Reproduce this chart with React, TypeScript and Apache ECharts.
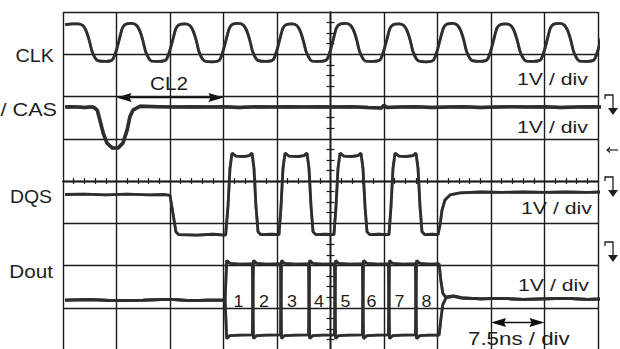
import React, { useEffect, useRef } from "react";
import * as echarts from "echarts";

// x in horizontal divisions (7.5 ns/div), y in vertical divisions (1 V/div), centre = 0,0
const clkTrace: number[][] = [
  [-4.96, 3.7], [-4.83, 3.72], [-4.72, 3.72], [-4.63, 3.68], [-4.57, 3.56], [-4.51, 3.33], [-4.46, 3.08], [-4.4, 2.91], [-4.35, 2.85], [-4.21, 2.83], [-4.1, 2.85], [-4.06, 2.9],
  [-4.0, 3.1], [-3.94, 3.39], [-3.89, 3.62], [-3.83, 3.71], [-3.72, 3.73], [-3.63, 3.69], [-3.57, 3.57], [-3.51, 3.34], [-3.46, 3.08], [-3.4, 2.91], [-3.35, 2.84], [-3.21, 2.83], [-3.1, 2.85], [-3.06, 2.89],
  [-3.0, 3.1], [-2.94, 3.38], [-2.89, 3.61], [-2.83, 3.7], [-2.72, 3.72], [-2.63, 3.68], [-2.57, 3.56], [-2.51, 3.33], [-2.46, 3.07], [-2.4, 2.9], [-2.35, 2.84], [-2.21, 2.82], [-2.1, 2.84], [-2.06, 2.89],
  [-2.0, 3.11], [-1.94, 3.4], [-1.89, 3.62], [-1.83, 3.71], [-1.72, 3.73], [-1.63, 3.69], [-1.57, 3.57], [-1.51, 3.34], [-1.46, 3.08], [-1.4, 2.91], [-1.35, 2.85], [-1.21, 2.83], [-1.1, 2.85], [-1.06, 2.89],
  [-1.0, 3.1], [-0.94, 3.39], [-0.89, 3.62], [-0.83, 3.7], [-0.72, 3.72], [-0.63, 3.68], [-0.57, 3.56], [-0.51, 3.33], [-0.46, 3.08], [-0.4, 2.91], [-0.35, 2.84], [-0.21, 2.83], [-0.1, 2.85], [-0.06, 2.89],
  [0.0, 3.1], [0.06, 3.39], [0.11, 3.62], [0.17, 3.71], [0.28, 3.73], [0.37, 3.69], [0.43, 3.57], [0.49, 3.34], [0.54, 3.08], [0.6, 2.91], [0.65, 2.84], [0.79, 2.83], [0.9, 2.85], [0.94, 2.89],
  [1.0, 3.1], [1.06, 3.38], [1.11, 3.61], [1.17, 3.7], [1.28, 3.72], [1.37, 3.68], [1.43, 3.56], [1.49, 3.33], [1.54, 3.07], [1.6, 2.9], [1.65, 2.84], [1.79, 2.82], [1.9, 2.84], [1.94, 2.89],
  [2.0, 3.11], [2.06, 3.4], [2.11, 3.62], [2.17, 3.71], [2.28, 3.73], [2.37, 3.69], [2.43, 3.57], [2.49, 3.34], [2.54, 3.08], [2.6, 2.91], [2.65, 2.85], [2.79, 2.83], [2.9, 2.85], [2.94, 2.89],
  [3.0, 3.1], [3.06, 3.39], [3.11, 3.62], [3.17, 3.7], [3.28, 3.72], [3.37, 3.68], [3.43, 3.56], [3.49, 3.33], [3.54, 3.08], [3.6, 2.91], [3.65, 2.84], [3.79, 2.83], [3.9, 2.85], [3.94, 2.89],
  [4.0, 3.1], [4.06, 3.39], [4.11, 3.62], [4.17, 3.71], [4.28, 3.73], [4.37, 3.69], [4.43, 3.57], [4.49, 3.34], [4.54, 3.08], [4.6, 2.91], [4.65, 2.84], [4.79, 2.83], [4.9, 2.85], [4.94, 2.89],
  [5.0, 3.1], [5.06, 3.39], [5.09, 3.52],
];

const casTrace: number[][] = [
  [-4.96, 1.75], [-4.85, 1.76], [-4.72, 1.75], [-4.6, 1.74], [-4.5, 1.75], [-4.44, 1.75], [-4.4, 1.72], [-4.36, 1.68],
  [-4.31, 1.44], [-4.25, 1.14], [-4.18, 0.9], [-4.08, 0.78], [-3.97, 0.78], [-3.88, 0.9], [-3.8, 1.21], [-3.75, 1.52],
  [-3.69, 1.68], [-3.56, 1.77], [-3.2, 1.76], [-2.9, 1.75], [-2.6, 1.76], [-2.3, 1.75], [-2.0, 1.76], [-1.7, 1.74],
  [-1.4, 1.76], [-1.1, 1.75], [-0.8, 1.76], [-0.5, 1.75], [-0.2, 1.76], [0.1, 1.75], [0.4, 1.76], [0.7, 1.74],
  [0.95, 1.73], [1.0, 1.79], [1.05, 1.74], [1.3, 1.75], [1.6, 1.76], [1.9, 1.74], [2.2, 1.75], [2.5, 1.76],
  [2.8, 1.74], [3.1, 1.75], [3.4, 1.76], [3.7, 1.75], [4.0, 1.76], [4.3, 1.74], [4.6, 1.75], [4.9, 1.76], [5.09, 1.75],
];

const dqsTrace: number[][] = [
  [-4.96, -0.32], [-4.6, -0.31], [-4.2, -0.33], [-3.8, -0.31], [-3.4, -0.33], [-3.1, -0.32], [-3.0, -0.34], [-2.94, -0.8], [-2.89, -1.2], [-2.84, -1.27], [-2.5, -1.28], [-2.2, -1.26], [-1.96, -1.28],
  [-1.916, -0.6], [-1.879, 0.3], [-1.841, 0.66], [-1.77, 0.59], [-1.6, 0.58], [-1.52, 0.6], [-1.467, 0.66], [-1.43, 0.3], [-1.393, -0.6], [-1.355, -1.2], [-1.3, -1.27], [-1.1, -1.26],
  [-0.963, -1.27], [-0.925, -0.6], [-0.888, 0.3], [-0.85, 0.66], [-0.776, 0.59], [-0.6, 0.58], [-0.495, 0.6], [-0.439, 0.66], [-0.402, 0.3], [-0.364, -0.6], [-0.327, -1.2], [-0.271, -1.27], [-0.1, -1.26],
  [0.065, -1.27], [0.103, -0.6], [0.14, 0.3], [0.178, 0.66], [0.252, 0.59], [0.4, 0.58], [0.514, 0.6], [0.57, 0.66], [0.607, 0.3], [0.645, -0.6], [0.682, -1.2], [0.738, -1.27], [0.9, -1.26],
  [1.093, -1.27], [1.131, -0.6], [1.168, 0.3], [1.206, 0.66], [1.28, 0.59], [1.42, 0.58], [1.542, 0.6], [1.598, 0.66], [1.636, 0.3], [1.673, -0.6], [1.71, -1.2], [1.766, -1.27], [1.9, -1.26],
  [2.009, -1.27], [2.047, -1.04], [2.084, -0.69], [2.14, -0.45], [2.234, -0.33], [2.42, -0.28], [2.8, -0.26], [3.2, -0.27], [3.6, -0.26], [4.0, -0.27], [4.4, -0.26], [4.8, -0.27], [5.09, -0.26],
];

// Dout: two overlaid acquisitions (bit patterns 10101010 and 01010101)
const doutTraceA: number[][] = [
  [-4.96, -2.82], [-4.5, -2.81], [-4.0, -2.83], [-3.5, -2.82], [-3.0, -2.8], [-2.6, -2.83], [-2.3, -2.82], [-1.97, -2.82],
  [-1.94, -1.88], [-1.88, -1.95], [-1.7, -1.97], [-1.46, -1.96],
  [-1.44, -3.73], [-1.38, -3.66], [-1.2, -3.65], [-0.935, -3.64],
  [-0.915, -1.88], [-0.86, -1.95], [-0.65, -1.97], [-0.41, -1.96],
  [-0.39, -3.73], [-0.33, -3.66], [-0.15, -3.65], [0.074, -3.64],
  [0.095, -1.88], [0.15, -1.95], [0.35, -1.97], [0.597, -1.96],
  [0.617, -3.73], [0.68, -3.66], [0.88, -3.65], [1.083, -3.64],
  [1.103, -1.88], [1.16, -1.95], [1.35, -1.97], [1.588, -1.96],
  [1.608, -3.73], [1.67, -3.66], [1.85, -3.65], [2.03, -3.65],
  [2.065, -3.25], [2.1, -2.92], [2.17, -2.74], [2.3, -2.72], [2.45, -2.76], [2.8, -2.79], [3.2, -2.78], [3.6, -2.8], [4.0, -2.79], [4.4, -2.78], [4.8, -2.8], [5.09, -2.79],
];
const doutTraceB: number[][] = [
  [-4.96, -2.82], [-4.5, -2.81], [-4.0, -2.83], [-3.5, -2.82], [-3.0, -2.8], [-2.6, -2.83], [-2.3, -2.82], [-1.97, -2.82],
  [-1.94, -3.73], [-1.88, -3.66], [-1.7, -3.65], [-1.46, -3.64],
  [-1.44, -1.88], [-1.38, -1.95], [-1.2, -1.97], [-0.935, -1.96],
  [-0.915, -3.73], [-0.86, -3.66], [-0.65, -3.65], [-0.41, -3.64],
  [-0.39, -1.88], [-0.33, -1.95], [-0.15, -1.97], [0.074, -1.96],
  [0.095, -3.73], [0.15, -3.66], [0.35, -3.65], [0.597, -3.64],
  [0.617, -1.88], [0.68, -1.95], [0.88, -1.97], [1.083, -1.96],
  [1.103, -3.73], [1.16, -3.66], [1.35, -3.65], [1.588, -3.64],
  [1.608, -1.88], [1.67, -1.95], [1.85, -1.97], [2.03, -1.96],
  [2.065, -2.38], [2.1, -2.66], [2.16, -2.76], [2.3, -2.73], [2.45, -2.77], [2.8, -2.79], [3.2, -2.78], [3.6, -2.8], [4.0, -2.79], [4.4, -2.78], [4.8, -2.8], [5.09, -2.79],
];

const bitNames = ["1", "2", "3", "4", "5", "6", "7", "8"];
const bitX = [-1.72, -1.243, -0.72, -0.215, 0.28, 0.766, 1.29, 1.794];
const bitY = -2.84;

const cl2Span = [-4, -2, 2]; // from x, to x, at y (divisions)
const timeSpan = [3, 4, -3.33];

const FONT = "'Liberation Sans', Arial, sans-serif";
const INK = "#1e1e1e";
const GRID = { color: "#1c1c1c", width: 1.4 };
const TRACE = "#2e2e2e";

function text(t: string, x: number, y: number, align: string, sx: number, size = 18) {
  return {
    type: "text",
    x,
    y,
    scaleX: sx,
    silent: true,
    z: 10,
    style: { text: t, fontSize: size, fontFamily: FONT, fill: INK, align, verticalAlign: "middle" },
  };
}
function marker(y: number) {
  return [
    { type: "polyline", silent: true, shape: { points: [[605, y + 4], [605, y], [613, y], [613, y + 14]] }, style: { stroke: INK, lineWidth: 1.3, fill: null } },
    { type: "polygon", silent: true, shape: { points: [[608, y + 13], [618, y + 13], [613, y + 20]] }, style: { fill: INK } },
  ];
}

function lineSeries(name: string, data: number[][], width = 2.8, extra: any = {}) {
  return {
    name,
    type: "line",
    data,
    symbol: "none",
    clip: false,
    silent: true,
    z: 5,
    lineStyle: { color: TRACE, width, shadowBlur: 1.5, shadowColor: "rgba(0,0,0,0.45)" },
    ...extra,
  };
}

function xAx(inside: boolean, main: boolean) {
  return {
    type: "value", min: -5, max: 5, interval: 1, position: "bottom",
    axisLine: { show: true, onZero: true, onZeroAxisIndex: 0, lineStyle: GRID },
    axisTick: { show: false, inside },
    minorTick: { show: true, splitNumber: 5, length: 3, lineStyle: { color: "#1c1c1c", width: 1.2 } },
    axisLabel: { show: false },
    splitLine: { show: main, lineStyle: GRID },
    minorSplitLine: { show: false },
  };
}
function yAx(inside: boolean, main: boolean) {
  return {
    type: "value", min: -4, max: 4, interval: 1, position: "left",
    axisLine: { show: true, onZero: true, onZeroAxisIndex: 0, lineStyle: GRID },
    axisTick: { show: false, inside },
    minorTick: { show: true, splitNumber: 4, length: 4, lineStyle: { color: "#1c1c1c", width: 1.2 } },
    axisLabel: { show: false },
    splitLine: { show: main, lineStyle: GRID },
    minorSplitLine: { show: false },
  };
}

export default function App() {
  const ref = useRef<HTMLDivElement>(null);
  useEffect(() => {
    const chart = echarts.init(ref.current!, null, { renderer: "svg" });
    const staticGraphic: any[] = [
      text("CLK", 54, 56, "right", 1.1),
      text("/ CAS", 57, 109.5, "right", 1.2),
      text("DQS", 52, 197, "right", 1.08),
      text("Dout", 53, 271.5, "right", 1.15),
      text("CL2", 169, 83.5, "center", 1.15),
      text("1V / div", 517, 79, "left", 1.25, 17),
      text("1V / div", 517, 127.5, "left", 1.25, 17),
      text("1V / div", 521, 208, "left", 1.25, 17),
      text("1V / div", 518, 285, "left", 1.25, 17),
      text("7.5ns / div", 468, 339, "left", 1.24, 18),
      ...marker(95),
      ...marker(177),
      ...marker(242),
      { type: "polyline", silent: true, shape: { points: [[618, 150], [607, 150]] }, style: { stroke: INK, lineWidth: 1.2, fill: null } },
      { type: "polyline", silent: true, shape: { points: [[610, 147.5], [607, 150], [610, 152.5]] }, style: { stroke: INK, lineWidth: 1.2, fill: null } },
    ];
    const option: any = {
      animation: false,
      backgroundColor: "#ffffff",
      grid: { left: 63, top: 12, width: 535, height: 338, containLabel: false, outerBoundsMode: "none" },
      xAxis: [xAx(false, true), xAx(true, false)],
      yAxis: [yAx(false, true), yAx(true, false)],
      series: [
        lineSeries("CLK", clkTrace, 2.8, { smooth: 0.2 }),
        lineSeries("/CAS", casTrace, 3.5),
        lineSeries("DQS", dqsTrace),
        lineSeries("Dout A", doutTraceA),
        lineSeries("Dout B", doutTraceB),
      ],
      graphic: staticGraphic,
    };
    chart.setOption(option);

    const px = (x: number, y: number) => chart.convertToPixel({ gridIndex: 0 }, [x, y]) as number[];
    // double-headed dimension arrows, placed from data coordinates
    const arrow = (span: number[]) => {
      const a = px(span[0], span[2]);
      const b = px(span[1], span[2]);
      const y = Math.round(a[1]) + 0.5;
      const L = 15, H = 4.5, N = 13;
      return [
        { type: "line", silent: true, shape: { x1: a[0] + 4, y1: y, x2: b[0] - 4, y2: y }, style: { stroke: "#111", lineWidth: 1.5 } },
        { type: "polygon", silent: true, shape: { points: [[a[0], y], [a[0] + L, y - H], [a[0] + N, y], [a[0] + L, y + H]] }, style: { fill: "#111" } },
        { type: "polygon", silent: true, shape: { points: [[b[0], y], [b[0] - L, y - H], [b[0] - N, y], [b[0] - L, y + H]] }, style: { fill: "#111" } },
      ];
    };
    const bitLabels = bitNames.map((n, i) => {
      const p = px(bitX[i], bitY);
      return text(n, p[0], p[1], "center", 1.05, 17);
    });
    chart.setOption({ graphic: [...staticGraphic, ...arrow(cl2Span), ...arrow(timeSpan), ...bitLabels] });
    return () => chart.dispose();
  }, []);
  return (
    <div
      ref={ref}
      style={{ position: "fixed", left: 0, top: 0, width: 620, height: 349, background: "#fff" }}
    />
  );
}
